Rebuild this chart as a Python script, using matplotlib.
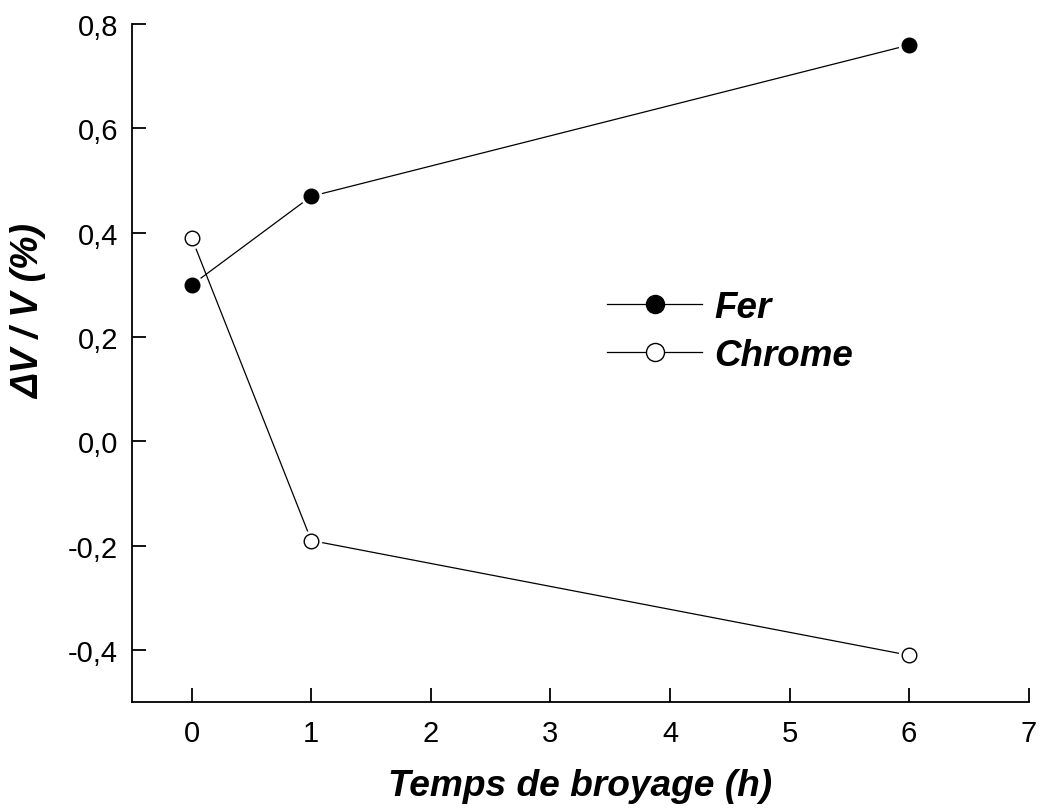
import matplotlib.pyplot as plt
from matplotlib.lines import Line2D
from matplotlib.ticker import FuncFormatter

# Milling time (h) and relative volume change (%)
temps = [0, 1, 6]
fer = [0.30, 0.47, 0.76]
chrome = [0.39, -0.19, -0.41]

plt.rcParams['font.family'] = ['Liberation Sans', 'DejaVu Sans']

fig = plt.figure(figsize=(10.39, 8.12), dpi=100)
ax = fig.add_axes([0.127, 0.134, 0.863, 0.835])

for y, face in [(fer, 'black'), (chrome, 'white')]:
    ax.plot(temps, y, color='black', lw=0.9, zorder=1)
    # white halo so the line stops short of each marker
    ax.plot(temps, y, ls='none', marker='o', ms=14.5, mfc='white', mec='white', zorder=2)
    ax.plot(temps, y, ls='none', marker='o', ms=10.5, mfc=face, mec='black', mew=1, zorder=3)

ax.set_xlim(-0.5, 7)
ax.set_ylim(-0.5, 0.8)
ax.set_xticks(range(0, 8))
ax.set_yticks([-0.4, -0.2, 0.0, 0.2, 0.4, 0.6, 0.8])
ax.yaxis.set_major_formatter(FuncFormatter(lambda v, p: f'{v:.1f}'.replace('.', ',')))
ax.tick_params(direction='in', length=10, width=1.3, labelsize=21)
ax.tick_params(axis='x', pad=12)
ax.tick_params(axis='y', pad=10)

for side in ['top', 'right']:
    ax.spines[side].set_visible(False)
for side in ['left', 'bottom']:
    ax.spines[side].set_linewidth(1.3)

ax.set_xlabel('Temps de broyage (h)', fontsize=26.7, fontweight='bold', style='italic', labelpad=15)
ax.set_ylabel('ΔV / V (%)', fontsize=27, fontweight='bold', style='italic')
ax.yaxis.set_label_coords(-0.094, 0.578)

handles = [
    Line2D([], [], color='black', lw=0.9, marker='o', ms=13, mfc='black', mec='black'),
    Line2D([], [], color='black', lw=0.9, marker='o', ms=13, mfc='white', mec='black'),
]
leg = ax.legend(handles, ['Fer', 'Chrome'], loc='upper left', bbox_to_anchor=(0.584, 0.642),
                bbox_transform=fig.transFigure, frameon=False, borderpad=0, borderaxespad=0,
                handlelength=2.6, handletextpad=0.33, labelspacing=0.35,
                prop={'size': 26.5, 'weight': 'bold', 'style': 'italic'})

fig.savefig('out.png', dpi=100)
